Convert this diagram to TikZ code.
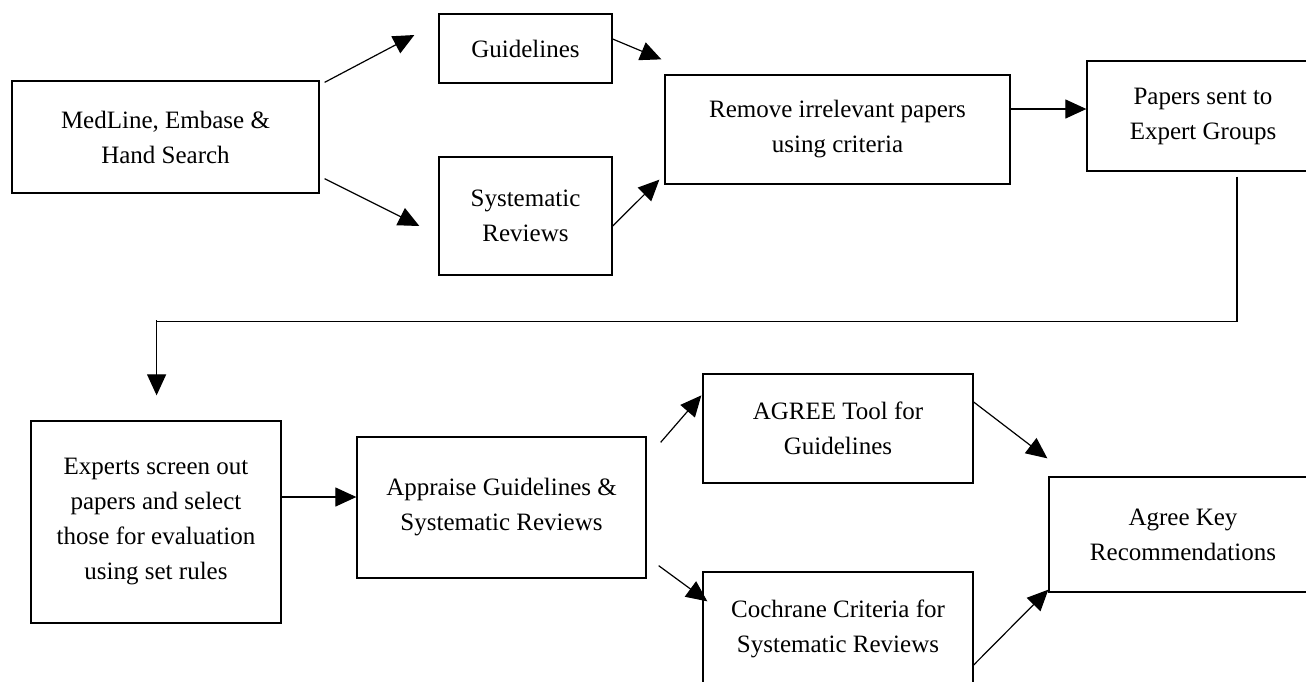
\documentclass[tikz,border=0pt]{standalone}
\usepackage{fontspec}
\setmainfont{Liberation Serif}
\usetikzlibrary{arrows.meta,calc}
\begin{document}
\begin{tikzpicture}[x=1pt,y=-1pt,
  box/.style={draw=black,line width=1.3pt,rectangle,align=center,inner sep=0pt,
    font=\fontsize{25}{35}\selectfont},
  arr/.style={line width=1.2pt,-{Triangle[length=21pt,width=19pt]}},
  ln/.style={line width=1.2pt}]
\useasboundingbox (0,0) rectangle (1306,681);
\clip (0,0) rectangle (1306,681);
\node[box,minimum width=307pt,minimum height=112pt] (med) at (165.5,137) {MedLine, Embase \&\\Hand Search};
\node[box,minimum width=173pt,minimum height=69pt] (guide) at (525.5,48.5) {Guidelines};
\node[box,minimum width=173pt,minimum height=118pt] (sys) at (525.5,216) {Systematic\\Reviews};
\node[box,minimum width=345pt,minimum height=109pt] (remove) at (837.5,129.5) {Remove irrelevant papers\\using criteria};
\node[box,minimum width=232pt,minimum height=110pt] (papers) at (1203,116) {Papers sent to\\Expert Groups};
\node[box,minimum width=250pt,minimum height=202pt] (experts) at (156,522) {Experts screen out\\papers and select\\those for evaluation\\using set rules};
\node[box,minimum width=289pt,minimum height=141pt] (appraise) at (501.5,507.5) {Appraise Guidelines \&\\Systematic Reviews};
\node[box,minimum width=270pt,minimum height=109pt] (agree) at (838,428.5) {AGREE Tool for\\Guidelines};
\node[box,minimum width=270pt,minimum height=114pt] (cochrane) at (838,629) {Cochrane Criteria for\\Systematic Reviews};
\node[box,minimum width=268pt,minimum height=115pt] (key) at (1183,534.5) {Agree Key\\Recommendations};
\coordinate (turn) at ($(papers.south)+(34,150)$);
\coordinate (down) at ($(experts.north)+(0.6,-100)$);
\draw[arr] ($(med.north east)+(5,2)$) -- ($(guide.west)+(-24,-13.5)$);
\draw[arr] ($(med.south east)+(5,-15)$) -- ($(sys.west)+(-19,10)$);
\draw[arr] ($(guide.east)+(0,-9.5)$) -- ($(remove.north west)+(-3,-15)$);
\draw[arr] ($(sys.east)+(0,10)$) -- ($(remove.south west)+(-5,-5)$);
\draw[arr] ($(remove.east)+(0,-20.5)$) -- ($(papers.west)+(0,-7)$);
\draw[ln] ($(papers.south)+(34,5)$) -- (turn) -| (down);
\draw[arr] (down) -- ($(experts.north)+(0.6,-25)$);
\draw[arr] ($(experts.east)+(0,-25)$) -- ($(appraise.west)+(0,-10.5)$);
\draw[arr] ($(appraise.north east)+(14,6)$) -- ($(agree.north west)+(-1,22)$);
\draw[arr] ($(appraise.south east)+(12,-13)$) -- ($(cochrane.north west)+(5,30)$);
\draw[arr] ($(agree.east)+(0,-26.5)$) -- ($(key.north west)+(-1,-18)$);
\draw[arr] ($(cochrane.east)+(0,36)$) -- ($(key.south west)+(0,-3)$);
\end{tikzpicture}
\end{document}
